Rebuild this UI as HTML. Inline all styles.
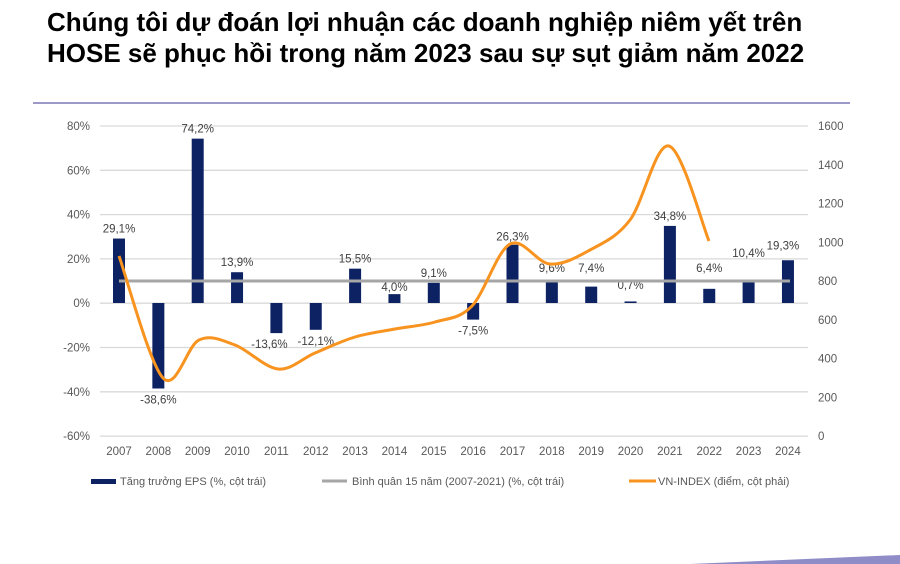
<!DOCTYPE html>
<html><head><meta charset="utf-8"><style>
html,body{margin:0;padding:0;background:#fff;width:900px;height:564px;overflow:hidden}
.t{position:absolute;left:47px;top:7px;font:bold 26px "Liberation Sans",Arial,sans-serif;color:#000;line-height:31px;white-space:nowrap}
svg{position:absolute;left:0;top:0}
text{font-family:"Liberation Sans",Arial,sans-serif}
</style></head><body>
<div class="t">Chúng tôi dự đoán lợi nhuận các doanh nghiệp niêm yết trên<br>HOSE sẽ phục hồi trong năm 2023 sau sự sụt giảm năm 2022</div>
<svg width="900" height="564" id="s">
<line x1="33" y1="103" x2="850" y2="103" stroke="#9c99c8" stroke-width="2"/>
<polygon points="690,564 900,555 900,564" fill="#8f8cc8"/>
<g id="g"></g>
</svg>
<script>
(function(){
var g=document.getElementById('g'),h='';
var y0=303,pp=44.3/20;
var lt=['80%','60%','40%','20%','0%','-20%','-40%','-60%'];
for(var i=0;i<8;i++){var y=126+i*44.3;
h+='<line x1="100" y1="'+y+'" x2="808" y2="'+y+'" stroke="#d9d9d9" stroke-width="1.3"/>';
h+='<text x="90" y="'+(y+4)+'" font-size="11.5" fill="#595959" text-anchor="end">'+lt[i]+'</text>';}
for(var i=0;i<9;i++){var y=436-i*38.75;h+='<text x="818" y="'+(y+4)+'" font-size="11.5" fill="#595959">'+(i*200)+'</text>';}
var v=[29.1,-38.6,74.2,13.9,-13.6,-12.1,15.5,4.0,9.1,-7.5,26.3,9.6,7.4,0.7,34.8,6.4,10.4,19.3];
for(var i=0;i<18;i++){var x=119+i*39.35,val=v[i],yt=y0-val*pp;
var tp=Math.min(yt,y0),hh=Math.abs(yt-y0);
h+='<rect x="'+(x-6)+'" y="'+tp+'" width="12" height="'+Math.max(hh,1)+'" fill="#0d2263"/>';
var ly=val>=0?yt-6:yt+15;var lx=x;
if(val==4.0)ly=yt-3; if(val==0.7)ly=y0-14;
if(i==10)ly=yt-4; if(i==11||i==12||i==15)ly=y0-31; if(i==16)ly=y0-46; if(i==17)lx=x-5,ly=yt-11;
if(i==4)lx=x-7;
h+='<text x="'+lx+'" y="'+ly+'" font-size="11.5" fill="#404040" text-anchor="middle">'+val.toFixed(1).replace('.',',')+'%</text>';
h+='<text x="'+x+'" y="455" font-size="11.5" fill="#595959" text-anchor="middle">'+(2007+i)+'</text>';}
h+='<line x1="119" y1="281" x2="790" y2="281" stroke="#a6a6a6" stroke-width="3"/>';
var p=[[119,256],[163,378],[199,340],[235,345],[278,369],[315,353],[355,337],[395,329],[435,322],[472,306],[510,244],[550,264],[590,250],[630,220],[669,146],[709,241]];
var d='M'+p[0][0]+','+p[0][1];
for(var i=0;i<p.length-1;i++){var a=p[Math.max(i-1,0)],b=p[i],c=p[i+1],e=p[Math.min(i+2,p.length-1)];
d+=' C'+(b[0]+(c[0]-a[0])/6)+','+(b[1]+(c[1]-a[1])/6)+' '+(c[0]-(e[0]-b[0])/6)+','+(c[1]-(e[1]-b[1])/6)+' '+c[0]+','+c[1];}
h+='<path d="'+d+'" fill="none" stroke="#f7931e" stroke-width="3"/>';
h+='<rect x="91" y="479" width="25" height="5" fill="#0d2263"/><text x="120" y="485" font-size="11" fill="#595959">Tăng trưởng EPS (%, cột trái)</text>';
h+='<line x1="322" y1="481" x2="347" y2="481" stroke="#a6a6a6" stroke-width="3"/><text x="352" y="485" font-size="11" fill="#595959">Bình quân 15 năm (2007-2021) (%, cột trái)</text>';
h+='<line x1="629" y1="481" x2="656" y2="481" stroke="#f7931e" stroke-width="3"/><text x="658" y="485" font-size="11" fill="#595959">VN-INDEX (điểm, cột phải)</text>';
g.innerHTML=h;
})();
</script>
</body></html>
